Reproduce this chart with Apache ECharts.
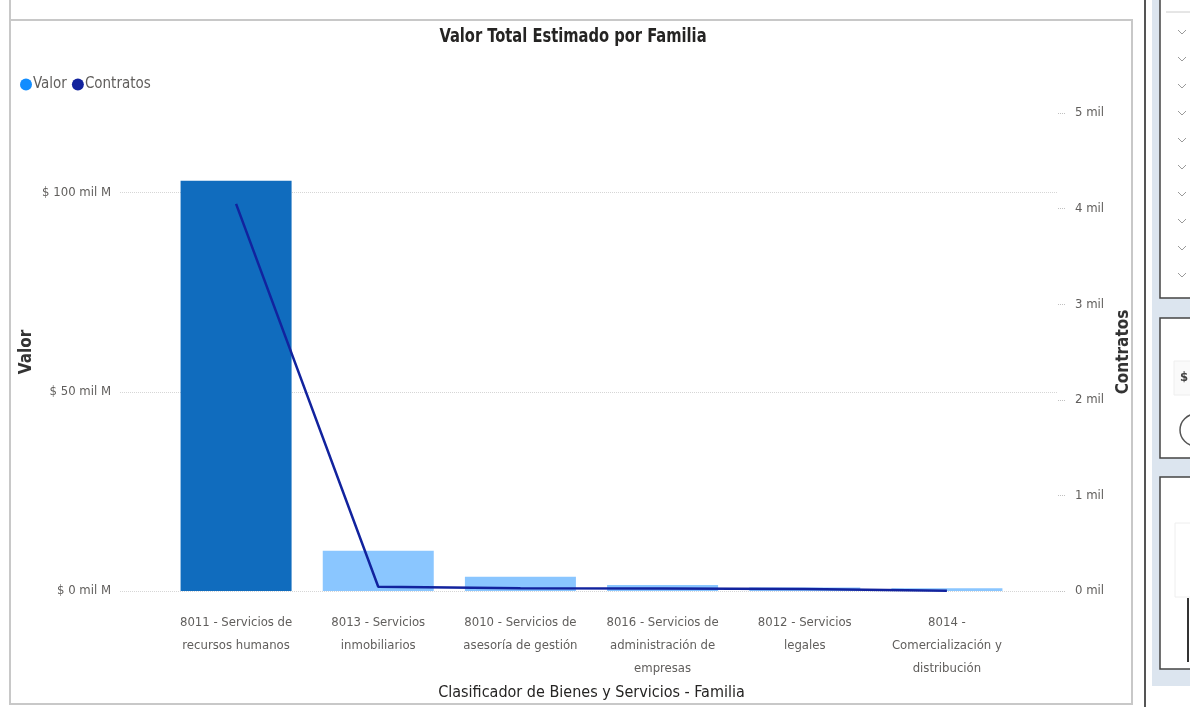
<!DOCTYPE html>
<html><head><meta charset="utf-8">
<script src="https://cdn.jsdelivr.net/npm/echarts@6/dist/echarts.min.js"></script>
<style>html,body{margin:0;padding:0;background:#fff}#c{width:1190px;height:707px}</style>
</head><body><div id="c"></div>
<script>
// ---- data ----
const categories = [
  '8011 - Servicios de\nrecursos humanos',
  '8013 - Servicios\ninmobiliarios',
  '8010 - Servicios de\nasesoría de gestión',
  '8016 - Servicios de\nadministración de\nempresas',
  '8012 - Servicios\nlegales',
  '8014 -\nComercialización y\ndistribución'
];
const valorMilM = [103, 10.1, 3.6, 1.5, 0.9, 0.7];   // $ mil M
const contratos = [4050, 45, 30, 25, 20, 3];          // count
const valorTickStep = 50;
const contratosTickStep = 1000;

const F = '"Liberation Sans Narrow", "DejaVu Sans Condensed", sans-serif';
const chart = echarts.init(document.getElementById('c'), null, {renderer: 'canvas'});

// decoration of the surrounding dashboard
const chevrons = [32, 59, 86, 113, 140, 167, 194, 221, 248, 275].map(y => ({
  type: 'polyline', shape: {points: [[1178, y - 2], [1182, y + 2], [1186, y - 2]]},
  style: {stroke: '#9a9a9a', lineWidth: 1, fill: null}, z: 20
}));

chart.setOption({
  animation: false,
  color: ['#118DFF', '#12239E'],
  legend: {
    left: 15, top: 72, itemWidth: 12, itemHeight: 12, itemGap: 5, icon: 'circle',
    textStyle: {color: '#605E5C', fontSize: 15, fontFamily: F, padding: [0, 0, 0, -4]},
    data: [{name: 'Valor', itemStyle: {color: '#118DFF'}}, {name: 'Contratos', itemStyle: {color: '#12239E'}}]
  },
  grid: [
    {left: 120, top: 113, width: 938, height: 478},
    {left: 165, top: 113, width: 853, height: 478}
  ],
  xAxis: [
    {gridIndex: 0, type: 'category', data: categories, show: false},
    {gridIndex: 1, type: 'category', data: categories,
     axisLine: {show: false}, axisTick: {show: false},
     axisLabel: {interval: 0, margin: 20, color: '#605E5C', fontSize: 13, lineHeight: 23, fontFamily: F},
     name: 'Clasificador de Bienes y Servicios - Familia', nameLocation: 'middle', nameGap: 83,
     nameTextStyle: {color: '#252423', fontSize: 16, fontFamily: F}}
  ],
  yAxis: [
    {gridIndex: 0, type: 'value', position: 'left', min: 0, max: 120, interval: valorTickStep,
     axisLine: {show: false}, axisTick: {show: false},
     axisLabel: {margin: 9, color: '#605E5C', fontSize: 13, fontFamily: F,
       formatter: v => (v % valorTickStep === 0 ? '$ ' + v + ' mil M' : '')},
     splitLine: {show: true, lineStyle: {type: 'dotted', width: 1, color: ['#d6d6d6', '#d6d6d6', '#d6d6d6', 'rgba(0,0,0,0)']}}},
    {gridIndex: 0, type: 'value', position: 'right', min: 0, max: 5000, interval: contratosTickStep,
     axisLine: {show: false}, axisTick: {show: true, length: 7, lineStyle: {type: 'dotted', color: '#c0c0c0'}},
     axisLabel: {margin: 17, color: '#605E5C', fontSize: 13, fontFamily: F, formatter: v => (v / 1000) + ' mil'},
     splitLine: {show: false},
     name: 'Contratos', nameLocation: 'middle', nameRotate: 90, nameGap: 54,
     nameTextStyle: {color: '#333333', fontSize: 17, fontWeight: 'bold', fontFamily: F}},
    {gridIndex: 1, type: 'value', position: 'left', min: 0, max: 120,
     axisLine: {show: false}, axisTick: {show: false}, axisLabel: {show: false}, splitLine: {show: false},
     name: 'Valor', nameLocation: 'middle', nameRotate: 90, nameGap: 130,
     nameTextStyle: {color: '#333333', fontSize: 17, fontWeight: 'bold', fontFamily: F}},
    {gridIndex: 1, type: 'value', position: 'right', min: 0, max: 5000,
     axisLine: {show: false}, axisTick: {show: false}, axisLabel: {show: false}, splitLine: {show: false}}
  ],
  series: [
    {name: 'Valor', type: 'bar', xAxisIndex: 1, yAxisIndex: 2, barWidth: 111, data: valorMilM,
     itemStyle: {color: p => (p.dataIndex === 0 ? '#106CBE' : '#8AC6FF')}},
    {name: 'Contratos', type: 'line', xAxisIndex: 1, yAxisIndex: 3, data: contratos,
     symbol: 'none', lineStyle: {color: '#12239E', width: 2.5}, itemStyle: {color: '#12239E'}, z: 5}
  ],
  graphic: [
    {type: 'text', x: 573, y: 37, scaleX: 0.86, z: 20, style: {text: 'Valor Total Estimado por Familia', fill: '#252423',
      font: 'bold 19px ' + F, textAlign: 'center', textVerticalAlign: 'middle'}},
    // chart frame
    {type: 'rect', shape: {x: 10, y: 20, width: 1122, height: 684}, style: {fill: null, stroke: '#c8c8c8', lineWidth: 2}, z: 20},
    {type: 'line', shape: {x1: 10, y1: 0, x2: 10, y2: 20}, style: {stroke: '#c8c8c8', lineWidth: 2}, z: 20},
    // right dashboard panel
    {type: 'rect', shape: {x: 1152, y: 0, width: 40, height: 686}, style: {fill: '#DCE5EF'}, z: 10},
    {type: 'line', shape: {x1: 1145, y1: 0, x2: 1145, y2: 707}, style: {stroke: '#555', lineWidth: 2}, z: 20},
    {type: 'rect', shape: {x: 1160, y: -5, width: 40, height: 303}, style: {fill: '#fff', stroke: '#444', lineWidth: 1.5}, z: 15},
    {type: 'line', shape: {x1: 1166, y1: 12, x2: 1190, y2: 12}, style: {stroke: '#ccc', lineWidth: 1}, z: 20},
    ...chevrons,
    {type: 'rect', shape: {x: 1160, y: 318, width: 40, height: 140}, style: {fill: '#fff', stroke: '#444', lineWidth: 1.5}, z: 15},
    {type: 'rect', shape: {x: 1174, y: 361, width: 26, height: 34}, style: {fill: '#fafafa', stroke: '#eee', lineWidth: 1}, z: 16},
    {type: 'text', x: 1180, y: 378, z: 20, style: {text: '$', fill: '#444', font: 'bold 13px ' + F, textVerticalAlign: 'middle'}},
    {type: 'circle', shape: {cx: 1196, cy: 430, r: 16}, style: {fill: '#fff', stroke: '#555', lineWidth: 1.5}, z: 20},
    {type: 'rect', shape: {x: 1160, y: 477, width: 40, height: 192}, style: {fill: '#fff', stroke: '#444', lineWidth: 1.5}, z: 15},
    {type: 'rect', shape: {x: 1175, y: 523, width: 20, height: 74}, style: {fill: '#fff', stroke: '#eee', lineWidth: 1}, z: 16},
    {type: 'line', shape: {x1: 1188, y1: 598, x2: 1188, y2: 662}, style: {stroke: '#333', lineWidth: 2}, z: 20}
  ]
});
</script>
</body></html>
